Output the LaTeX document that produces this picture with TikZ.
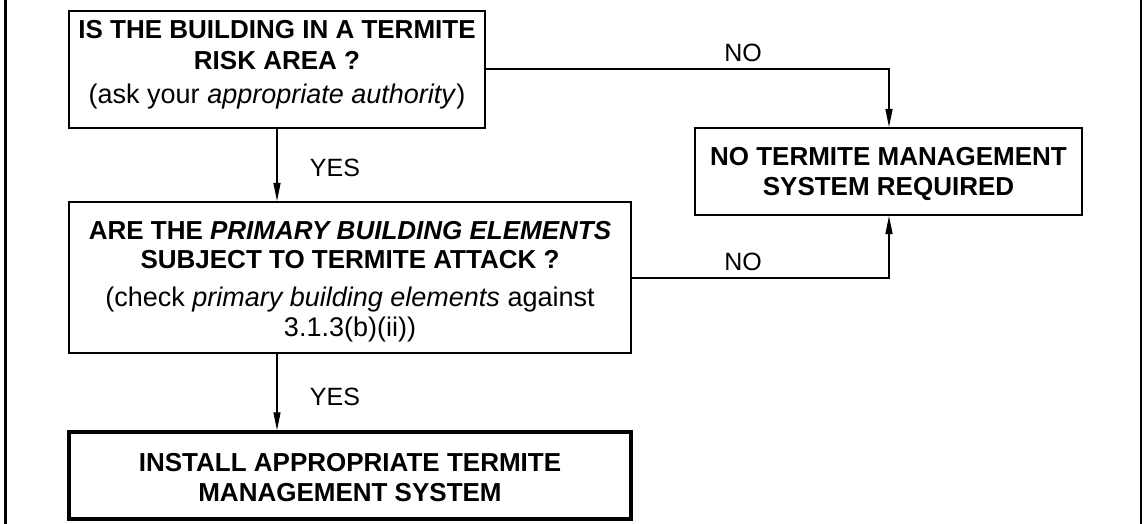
\documentclass[tikz,border=0pt]{standalone}
\usepackage{fontspec}
\setmainfont{Liberation Sans}
\usetikzlibrary{arrows.meta}
\tikzset{
  flowbox/.style={draw, line width=2pt, inner sep=0pt},
  endbox/.style={flowbox, line width=3.4pt},
  bt/.style={font=\fontsize{26}{31}\selectfont\bfseries, inner sep=0pt, anchor=base},
  rt/.style={font=\fontsize{27}{31}\selectfont, inner sep=0pt, anchor=base},
  arr/.style={line width=1.3pt, -{Stealth[length=18pt,width=7pt,inset=0pt]}},
  lab/.style={font=\fontsize{25}{28}\selectfont, inner sep=0pt},
  frame/.style={line width=3pt}
}
\begin{document}
\begin{tikzpicture}[x=1pt,y=-1pt]
\useasboundingbox (0,0) rectangle (1144,524);
\draw[frame] (5,0) -- (5,524);
\draw[frame, line width=2pt] (1141,0) -- (1141,524);

% boxes
\node[flowbox, minimum width=416pt, minimum height=117pt] (b1) at (277,69.5) {};
\node[flowbox, minimum width=387pt, minimum height=87pt] (b2) at (888.5,171.5) {};
\node[flowbox, minimum width=562pt, minimum height=151pt] (b3) at (350,277.5) {};
\node[endbox, minimum width=562pt, minimum height=87pt] (b4) at (350,475.5) {};

% box texts
\node[bt] (t1a) at (277,39) {IS THE BUILDING IN A TERMITE};
\node[bt] (t1b) at (277,70) {RISK AREA ?};
\node[rt] (t1c) at (277,104) {(ask your \textit{appropriate authority})};

\node[bt] (t2a) at (888.5,166) {NO TERMITE MANAGEMENT};
\node[bt] (t2b) at (888.5,196) {SYSTEM REQUIRED};

\node[bt] (t3a) at (350,239) {ARE THE \textit{PRIMARY BUILDING ELEMENTS}};
\node[bt] (t3b) at (350,268) {SUBJECT TO TERMITE ATTACK ?};
\node[rt] (t3c) at (350,306) {(check \textit{primary building elements} against};
\node[rt] (t3d) at (350,336) {3.1.3(b)(ii))};

\node[bt] (t4a) at (350,471) {INSTALL APPROPRIATE TERMITE};
\node[bt] (t4b) at (350,501) {MANAGEMENT SYSTEM};

% connectors
\coordinate (ax) at (277,0);
\coordinate (k1) at (889,69);
\coordinate (k2) at (889,278);

\draw[arr] (b1.south -| ax) -- (b3.north -| ax);
\draw[arr] (b3.south -| ax) -- (b4.north -| ax);
\draw[arr] (b1.east |- k1) -| (b2.north -| k1);
\draw[arr] (b3.east |- k2) -| (b2.south -| k2);

\node[lab] (y1) at (335,168) {YES};
\node[lab] (y2) at (335,397) {YES};
\node[lab] (n1) at (743,53) {NO};
\node[lab] (n2) at (743,262) {NO};
\end{tikzpicture}
\end{document}
